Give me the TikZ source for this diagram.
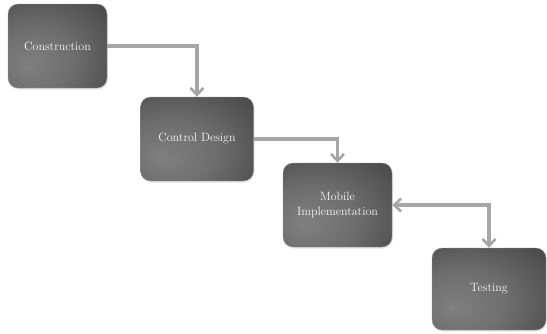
\documentclass[tikz,border=0pt]{standalone}
\usepackage{tikz}
\usepackage{xcolor}
\usetikzlibrary{arrows.meta,shadows}
\colorlet{box text}{white!97!black}
\colorlet{flow line}{black!35}
\pgfdeclareradialshading{stageshade}{\pgfpoint{-16bp}{-12bp}}{%
    color(0bp)=(black!50); color(20bp)=(black!57);
    color(50bp)=(black!76); color(75bp)=(black!84)}
\tikzset{stage/.style={shading=stageshade, rounded corners=10pt, draw=black!40,
        text=box text, align=center, font=\fontsize{12}{15}\selectfont,
        drop shadow={opacity=0.2, shadow xshift=1pt, shadow yshift=-1.5pt}},
    flow/.style={draw=flow line, line width=3.4pt,
        -{Straight Barb[length=7pt,width=13pt,line width=2.6pt]}}}

\begin{document}
\begin{tikzpicture}[x=1pt,y=-1pt]
    \useasboundingbox (0,0) rectangle (547,333);
    \node[stage, minimum width=99pt, minimum height=84pt] (construction) at (57.5,46) {Construction};
    \node[stage, minimum width=113pt, minimum height=84pt] (control) at (197,139) {Control Design};
    \node[stage, minimum width=109pt, minimum height=84pt] (mobile) at (337.5,205) {Mobile\\Implementation};
    \node[stage, minimum width=114pt, minimum height=82pt] (testing) at (489,289) {Testing};
    \draw[flow] (construction.east) -| (control.north);
    \draw[flow] (control.east) -| (mobile.north);
    \draw[flow, {Straight Barb[length=7pt,width=13pt,line width=2.6pt]}-{Straight Barb[length=7pt,width=13pt,line width=2.6pt]}] (mobile.east) -| (testing.north);
\end{tikzpicture}
\end{document}
